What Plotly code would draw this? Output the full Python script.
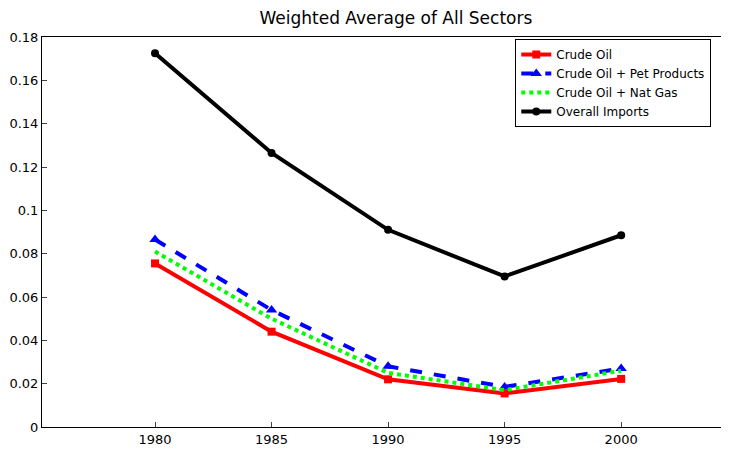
import plotly.graph_objects as go

years = [1980, 1985, 1990, 1995, 2000]
crude = [0.0755, 0.044, 0.022, 0.0155, 0.0222]
crude_pet = [0.0865, 0.054, 0.028, 0.0185, 0.027]
crude_gas = [0.081, 0.050, 0.025, 0.017, 0.026]
overall = [0.1725, 0.1265, 0.091, 0.0695, 0.0885]

fig = go.Figure()
fig.add_trace(go.Scatter(x=years, y=crude, name="Crude Oil", mode="lines+markers",
    line=dict(color="red", width=4), marker=dict(symbol="square", size=8, color="red")))
fig.add_trace(go.Scatter(x=years, y=crude_pet, name="Crude Oil + Pet Products", mode="lines+markers",
    line=dict(color="blue", width=4, dash="dash"), marker=dict(symbol="triangle-up", size=10, color="blue")))
fig.add_trace(go.Scatter(x=years, y=crude_gas, name="Crude Oil + Nat Gas", mode="lines",
    line=dict(color="#00ff00", width=4, dash="dot")))
fig.add_trace(go.Scatter(x=years, y=overall, name="Overall Imports", mode="lines+markers",
    line=dict(color="black", width=4), marker=dict(symbol="circle", size=8, color="black")))

fig.update_layout(
    width=746, height=449, plot_bgcolor="white", paper_bgcolor="white",
    margin=dict(l=34, r=0, t=29, b=30, autoexpand=False),
    title=dict(text="Weighted Average of All Sectors", x=0.52, y=0.99, xanchor="center",
               yanchor="top", font=dict(size=17, color="black")),
    font=dict(family="DejaVu Sans", size=13, color="black"),
    xaxis=dict(range=[1975.15, 2005.7], tickvals=years, showgrid=False, zeroline=False,
               showline=True, linecolor="black", mirror=True, ticks="inside", ticklen=5),
    yaxis=dict(range=[0, 0.18], dtick=0.02, showgrid=False, zeroline=False,
               showline=True, linecolor="black", mirror=True, ticks="inside", ticklen=5,
               tickformat="~g"),
    legend=dict(x=0.94, y=0.995, xanchor="right", yanchor="top", bordercolor="black",
                borderwidth=1, bgcolor="white", tracegroupgap=0, itemwidth=30,
                font=dict(size=12)),
)
fig.write_html("out.html")
